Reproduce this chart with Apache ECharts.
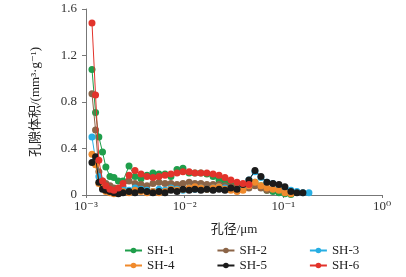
<!DOCTYPE html>
<html>
<head>
<meta charset="utf-8">
<script src="https://cdn.jsdelivr.net/npm/echarts@6/dist/echarts.min.js"></script>
<style>
  html, body { margin: 0; padding: 0; background: #fff; }
  #chart { width: 406px; height: 277px; }
</style>
</head>
<body>
<div id="chart"></div>
<script>
// pore diameter, um
const poreSize = [
  0.00115, 0.00125, 0.00135, 0.00147, 0.00159, 0.00175, 0.00192, 0.00213, 0.00237, 0.00273,
  0.00314, 0.00361, 0.00415, 0.00477, 0.00549, 0.00632, 0.00726, 0.00836, 0.00961, 0.0111,
  0.0127, 0.0146, 0.0168, 0.0194, 0.0223, 0.0256, 0.0294, 0.0339, 0.0390, 0.0448,
  0.0516, 0.0593, 0.0682, 0.0785, 0.0903, 0.1038, 0.1194, 0.1373, 0.1579, 0.1817
];

const sh1 = [1.08, 0.71, 0.50, 0.37, 0.24, 0.16, 0.15, 0.12, 0.12, 0.25, 0.16, 0.14, 0.17, 0.19, 0.18, 0.18, 0.16, 0.22, 0.23, 0.19,
  0.19, 0.19, 0.18, 0.16, 0.13, 0.11, 0.09, 0.07, 0.05, 0.07, 0.11, 0.08, 0.04, 0.03, 0.02, 0.01, 0.005, null, null, null];
const sh2 = [0.87, 0.56, 0.20, 0.12, 0.10, 0.08, 0.06, 0.05, 0.07, 0.12, 0.10, 0.09, 0.08, 0.10, 0.11, 0.10, 0.10, 0.09, 0.10, 0.11,
  0.10, 0.10, 0.09, 0.09, 0.09, 0.08, 0.07, 0.06, 0.05, 0.06, 0.08, 0.06, 0.04, null, null, null, null, null, null, null];
const sh3 = [0.50, 0.30, 0.16, 0.08, 0.05, 0.04, 0.03, 0.03, 0.05, 0.04, 0.06, 0.05, 0.04, 0.03, 0.05, 0.04, 0.06, 0.05, 0.04, 0.06,
  0.05, 0.06, 0.05, 0.06, 0.07, 0.06, 0.05, 0.04, 0.06, 0.13, 0.20, 0.15, 0.11, 0.10, 0.08, 0.06, 0.04, 0.03, 0.02, 0.02];
const sh4 = [0.35, 0.26, 0.10, 0.06, 0.03, 0.02, 0.01, 0.02, 0.03, 0.02, 0.04, 0.03, 0.02, 0.03, 0.02, 0.03, 0.05, 0.04, 0.05, 0.06,
  0.07, 0.06, 0.05, 0.06, 0.07, 0.05, 0.04, 0.03, 0.04, 0.08, 0.11, 0.08, 0.06, 0.05, 0.04, 0.02, 0.01, null, null, null];
const sh5 = [0.28, 0.33, 0.11, 0.05, 0.04, 0.03, 0.02, 0.01, 0.02, 0.03, 0.02, 0.04, 0.03, 0.02, 0.03, 0.02, 0.04, 0.03, 0.05, 0.04,
  0.05, 0.04, 0.05, 0.04, 0.05, 0.04, 0.06, 0.05, 0.09, 0.13, 0.21, 0.16, 0.11, 0.10, 0.09, 0.07, 0.03, 0.02, 0.02, null];
const sh6 = [1.48, 0.86, 0.30, 0.12, 0.08, 0.05, 0.04, 0.06, 0.10, 0.17, 0.21, 0.18, 0.16, 0.15, 0.16, 0.17, 0.18, 0.19, 0.20, 0.20,
  0.19, 0.19, 0.19, 0.18, 0.17, 0.15, 0.13, 0.11, 0.10, 0.09, null, null, null, null, null, null, null, null, null, null];

const seriesNames = ['SH-1', 'SH-2', 'SH-3', 'SH-4', 'SH-5', 'SH-6'];
const seriesValues = [sh1, sh2, sh3, sh4, sh5, sh6];
const colors = ['#1f9e4b', '#8b6447', '#27aee3', '#f08a2c', '#1b1b1b', '#e2332b'];
const xTickLabels = { '-3': '10⁻³', '-2': '10⁻²', '-1': '10⁻¹', '0': '10⁰' };

const serif = '"Liberation Serif", "DejaVu Serif", "Noto Sans CJK SC", serif';

const chart = echarts.init(document.getElementById('chart'));

const series = seriesNames.map((name, i) => ({
  name: name,
  type: 'line',
  data: poreSize.map((d, j) => [d, seriesValues[i][j]]),
  symbol: 'circle',
  symbolSize: 7,
  lineStyle: { width: 1, color: colors[i] },
  itemStyle: { color: colors[i] },
  z: 2 + i,
  animation: false
}));

// draw back-to-front roughly as in the figure
const order = [5, 0, 1, 2, 4, 3];

const legendCommon = {
  left: 119,
  itemWidth: 17,
  itemHeight: 7,
  itemGap: 42,
  textStyle: { fontFamily: serif, fontSize: 13, color: '#222' }
};

chart.setOption({
  animation: false,
  color: colors,
  grid: { left: 86, right: 24, top: 9, bottom: 82 },
  legend: [
    Object.assign({}, legendCommon, { top: 239, data: ['SH-1', 'SH-2', 'SH-3'] }),
    Object.assign({}, legendCommon, { top: 254, data: ['SH-4', 'SH-5', 'SH-6'] })
  ],
  xAxis: {
    type: 'log',
    logBase: 10,
    min: 0.001,
    max: 1,
    name: '孔径/μm',
    nameLocation: 'middle',
    nameGap: 28,
    nameTextStyle: { fontFamily: serif, fontSize: 13, color: '#222' },
    axisLine: { lineStyle: { color: '#777' } },
    axisTick: { show: true, length: 3, lineStyle: { color: '#777' } },
    splitLine: { show: false },
    minorTick: { show: false },
    axisLabel: {
      fontFamily: serif,
      fontSize: 13,
      color: '#333',
      margin: 5,
      formatter: v => xTickLabels[String(Math.round(Math.log10(v)))] || ''
    }
  },
  yAxis: {
    type: 'value',
    min: 0,
    max: 1.6,
    interval: 0.4,
    name: '孔隙体积/(mm³·g⁻¹)',
    nameLocation: 'middle',
    nameGap: 44,
    nameTextStyle: { fontFamily: serif, fontSize: 13, color: '#222' },
    axisLine: { show: true, lineStyle: { color: '#777' } },
    axisTick: { show: true, length: 4, lineStyle: { color: '#777' } },
    splitLine: { show: false },
    axisLabel: {
      fontFamily: serif,
      fontSize: 13,
      color: '#333',
      margin: 9,
      formatter: v => v === 0 ? '0' : v.toFixed(1)
    }
  },
  series: order.map(i => series[i])
});
</script>
</body>
</html>
